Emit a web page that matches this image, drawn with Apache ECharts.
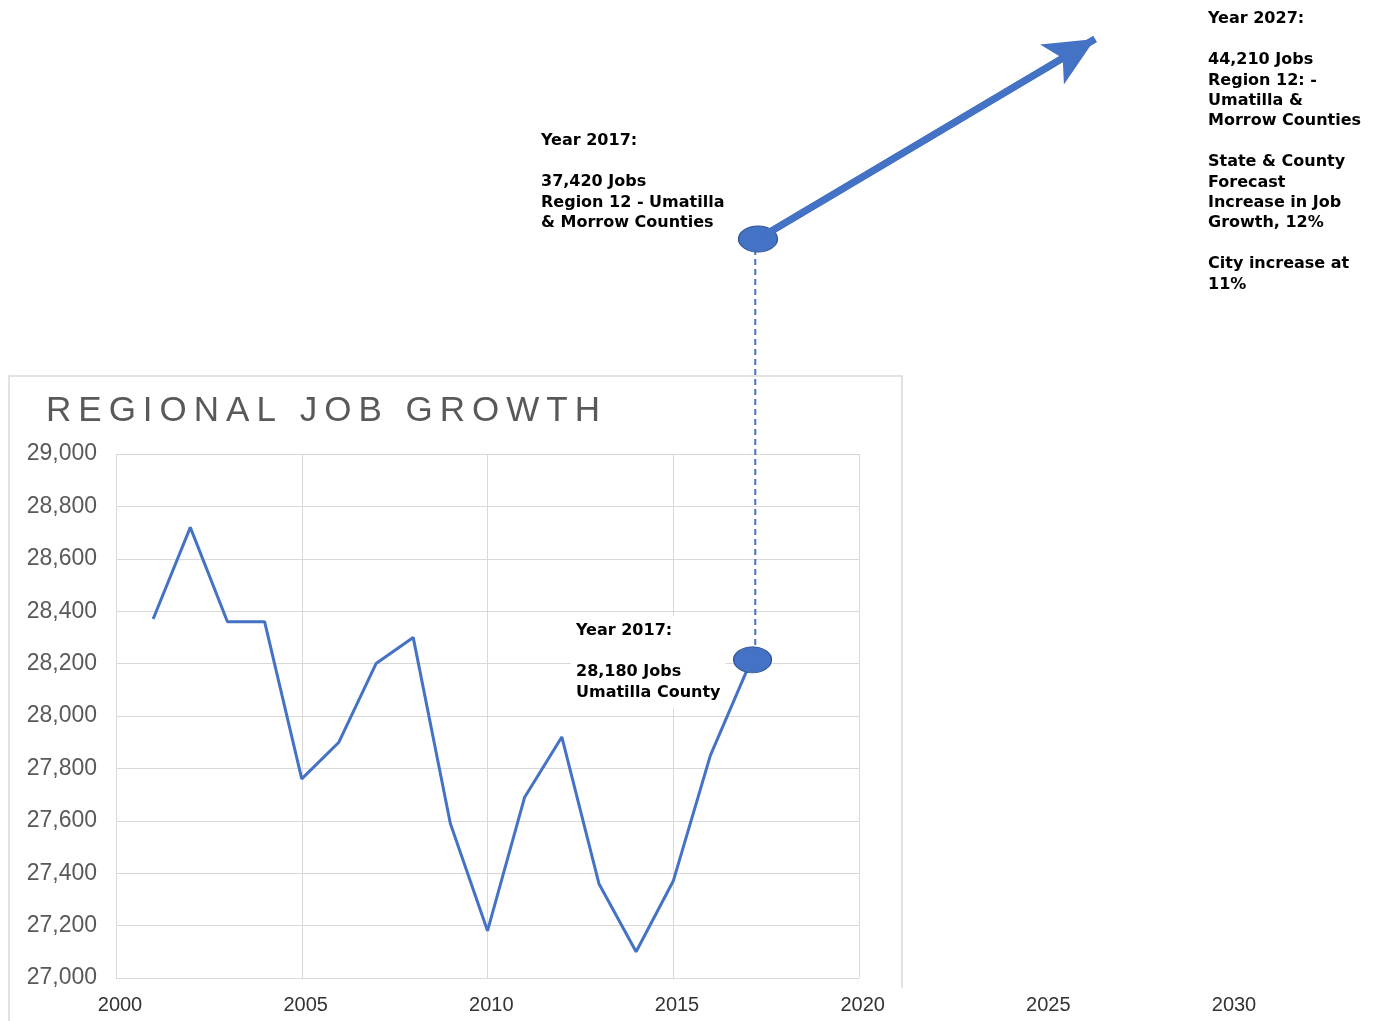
<!DOCTYPE html>
<html>
<head>
<meta charset="utf-8">
<title>Regional Job Growth</title>
<script src="https://cdn.jsdelivr.net/npm/echarts@6/dist/echarts.min.js"></script>
<style>
  html, body { margin: 0; padding: 0; background: #ffffff; }
  #main { width: 1379px; height: 1021px; }
</style>
</head>
<body>
<div id="main"></div>
<script>
// Umatilla County employment, annual totals
const years = [2001, 2002, 2003, 2004, 2005, 2006, 2007, 2008, 2009, 2010, 2011, 2012, 2013, 2014, 2015, 2016, 2017];
const jobs  = [28370, 28720, 28360, 28360, 27760, 27900, 28200, 28300, 27590, 27180, 27690, 27920, 27360, 27100, 27370, 27850, 28180];

// Region 12 (Umatilla & Morrow Counties) jobs: 2017 actual and 2027 forecast
const forecastYears = [2017, 2027];
const regionJobs = [37420, 44210];

// Growth rates quoted in the forecast note (percent)
const forecastGrowth = 12;
const cityGrowth = 11;

// Axis ranges
const chartYears = [2000, 2020];
const timelineYears = [2000, 2030];
const yearStep = 5;
const jobsRange = [27000, 29000];
const jobsStep = 200;

const BLUE = '#4472C4';
const GRID_GREY = '#d9d9d9';
const fmt = v => v.toLocaleString('en-US');

const chart = echarts.init(document.getElementById('main'), null, { renderer: 'canvas' });

const lastIdx = jobs.length - 1;
const countyData = years.map((y, i) => {
  const item = { value: [y, jobs[i]] };
  if (i === lastIdx) {
    item.symbol = 'circle';
    item.symbolSize = [38, 26];
    item.symbolOffset = [5, -9];
    item.itemStyle = { color: BLUE, borderColor: '#2F528F', borderWidth: 1 };
  }
  return item;
});

const regionData = forecastYears.map((y, i) => {
  const item = { value: [y, regionJobs[i]] };
  if (i === 0) {
    item.symbol = 'circle';
    item.symbolSize = [39, 26];
    item.itemStyle = { color: BLUE, borderColor: '#2F528F', borderWidth: 1 };
  } else {
    item.symbol = 'none';
  }
  return item;
});

const noteFont = { fontFamily: 'DejaVu Sans', fontWeight: 'bold', fontSize: 16, lineHeight: 20.4, fill: '#000000' };

const countyNote = `Year ${years[lastIdx]}:\n\n${fmt(jobs[lastIdx])} Jobs\nUmatilla County`;
const regionNote = `Year ${forecastYears[0]}:\n\n${fmt(regionJobs[0])} Jobs\nRegion 12 - Umatilla\n& Morrow Counties`;
const forecastNote = `Year ${forecastYears[1]}:\n\n${fmt(regionJobs[1])} Jobs\nRegion 12: -\nUmatilla &\nMorrow Counties\n\n` +
  `State & County\nForecast\nIncrease in Job\nGrowth, ${forecastGrowth}%\n\nCity increase at\n${cityGrowth}%`;

// Spaced-out heading lettering
const spaced = s => s.split('').join('\u2009');
const heading = 'REGIONAL JOB GROWTH'.split(' ').map(spaced).join('\u2009 \u2009');

const option = {
  animation: false,
  backgroundColor: '#ffffff',
  grid: [
    { left: 116, top: 454, width: 743, height: 524 },   // county chart
    { left: 758, top: 39, width: 337, height: 200 },    // regional forecast arrow
    { left: 120, top: 454, width: 1114, height: 524 }   // shared year labels
  ],
  xAxis: [
    {
      type: 'value', gridIndex: 0, min: chartYears[0], max: chartYears[1], interval: yearStep,
      axisLine: { show: true, lineStyle: { color: GRID_GREY, width: 1 } },
      axisTick: { show: false },
      axisLabel: { show: false },
      splitLine: { show: true, lineStyle: { color: GRID_GREY, width: 1 } }
    },
    {
      type: 'value', gridIndex: 1, min: forecastYears[0], max: forecastYears[1], show: false
    },
    {
      type: 'value', gridIndex: 2, min: timelineYears[0], max: timelineYears[1], interval: yearStep,
      axisLine: { show: false },
      axisTick: { show: false },
      splitLine: { show: false },
      axisLabel: {
        show: true, margin: 17, color: '#333333', fontSize: 20,
        fontFamily: 'Liberation Sans', formatter: v => String(v)
      }
    }
  ],
  yAxis: [
    {
      type: 'value', gridIndex: 0, min: jobsRange[0], max: jobsRange[1], interval: jobsStep,
      axisLine: { show: true, lineStyle: { color: GRID_GREY, width: 1 } },
      axisTick: { show: false },
      axisLabel: {
        margin: 19, color: '#595959', fontSize: 23, fontFamily: 'Liberation Sans',
        formatter: v => fmt(v)
      },
      splitLine: { show: true, lineStyle: { color: GRID_GREY, width: 1 } }
    },
    {
      type: 'value', gridIndex: 1, min: regionJobs[0], max: regionJobs[1], show: false
    },
    {
      type: 'value', gridIndex: 2, min: 0, max: 1, show: false
    }
  ],
  series: [
    {
      name: 'Umatilla County',
      type: 'line',
      xAxisIndex: 0, yAxisIndex: 0,
      data: countyData,
      symbol: 'none',
      showSymbol: true,
      clip: false,
      lineStyle: { color: BLUE, width: 3 },
      itemStyle: { color: BLUE },
      z: 3
    },
    {
      name: 'Region 12',
      type: 'line',
      xAxisIndex: 1, yAxisIndex: 1,
      data: regionData,
      symbol: 'none',
      showSymbol: true,
      clip: false,
      lineStyle: { color: BLUE, width: 7 },
      itemStyle: { color: BLUE },
      z: 3,
      markLine: {
        silent: true,
        symbol: ['none', 'arrow'],
        symbolSize: [35, 50],
        label: { show: false },
        lineStyle: { color: BLUE, width: 7, type: 'solid' },
        data: [[
          { coord: [forecastYears[0], regionJobs[0]] },
          { coord: [forecastYears[1], regionJobs[1]] }
        ]]
      }
    }
  ],
  graphic: [
    {
      type: 'polyline', z: 0, silent: true,
      shape: { points: [[9, 1030], [9, 376], [902, 376], [902, 988]] },
      style: { stroke: GRID_GREY, lineWidth: 1.5, fill: null }
    },
    {
      type: 'text', left: 46, top: 394, silent: true,
      style: { text: heading, fontFamily: 'Liberation Sans', fontSize: 35, fill: '#595959' }
    },
    {
      type: 'text', left: 541, top: 131, silent: true,
      style: Object.assign({ text: regionNote }, noteFont)
    },
    {
      type: 'text', left: 1208, top: 9, silent: true,
      style: Object.assign({ text: forecastNote }, noteFont)
    },
    {
      type: 'text', left: 571, top: 616, silent: true, z: 5,
      style: Object.assign({ text: countyNote, backgroundColor: '#ffffff', padding: [5, 5, 5, 5] }, noteFont)
    }
  ]
};

chart.setOption(option);

// Dashed connector between the 2017 regional point and the 2017 county point
const regionPx = chart.convertToPixel({ gridIndex: 1 }, [forecastYears[0], regionJobs[0]]);
const countyPx = chart.convertToPixel({ gridIndex: 0 }, [years[lastIdx], jobs[lastIdx]]);
const countyCentre = [countyPx[0] + 5, countyPx[1] - 9];
const connectorX = (regionPx[0] + countyCentre[0]) / 2;
chart.setOption({
  graphic: [{
    id: 'connector', type: 'line', z: 1, silent: true,
    shape: { x1: connectorX, y1: regionPx[1], x2: connectorX, y2: countyCentre[1] },
    style: { stroke: BLUE, lineWidth: 2, lineDash: [6, 4] }
  }]
});
</script>
</body>
</html>
